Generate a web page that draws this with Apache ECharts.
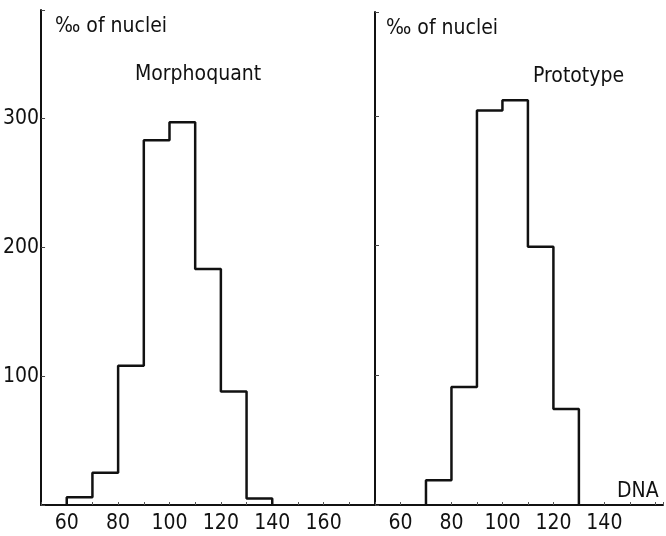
<!DOCTYPE html>
<html>
<head>
<meta charset="utf-8">
<script src="https://cdn.jsdelivr.net/npm/echarts@6/dist/echarts.min.js"></script>
<style>
  html, body { margin: 0; padding: 0; background: #fff; }
  #chart { width: 666px; height: 536px; }
</style>
</head>
<body>
<div id="chart"></div>
<script>
// DNA class left edges and ‰ of nuclei per class
const morphoBins = [60, 70, 80, 90, 100, 110, 120, 130]
const morphoValues = [6, 25, 108, 283, 297, 183, 88, 5]
const protoBins = [70, 80, 90, 100, 110, 120]
const protoValues = [19, 91, 304, 312, 199, 74]
const yTicks = [100, 200, 300]
const leftXLabels = [60, 80, 100, 120, 140, 160]
const rightXLabels = [60, 80, 100, 120, 140]

const binWidth = 10
const font = "'DejaVu Sans Condensed', 'Liberation Sans Narrow', sans-serif"
const ink = '#111'

// outline of a histogram as step points
const stepPoints = (bins, vals) => {
  const pts = [[bins[0], 0]]
  bins.forEach((b, i) => pts.push([b, vals[i]]))
  pts.push([bins[bins.length - 1] + binWidth, 0])
  return pts
}

const chart = echarts.init(document.getElementById('chart'))

const xAxisBase = (max, labels) => ({
  type: 'value',
  min: 50,
  max: max,
  interval: 10,
  axisLine: { lineStyle: { color: ink, width: 2 } },
  axisTick: { inside: true, length: 3, lineStyle: { color: '#555', width: 1 } },
  splitLine: { show: false },
  showMinLabel: false,
  showMaxLabel: false,
  axisLabel: {
    color: ink, fontSize: 21, fontFamily: font, margin: 8,
    formatter: v => labels.includes(v) ? String(v) : ''
  }
})

const yAxisBase = (showLabels) => ({
  type: 'value',
  min: 0,
  max: 384,
  interval: 100,
  axisLine: { show: true, lineStyle: { color: ink, width: 2 } },
  axisTick: { show: true, inside: true, length: 4, lineStyle: { color: '#444', width: 1 } },
  splitLine: { show: false },
  showMaxLabel: false,
  axisLabel: {
    show: showLabels, color: ink, fontSize: 21, fontFamily: font, margin: 2,
    formatter: v => yTicks.includes(v) ? String(v) : ''
  }
})

const textStyle = { color: ink, fontSize: 21, fontFamily: font, fontWeight: 'normal' }

const option = {
  animation: false,
  backgroundColor: '#fff',
  title: [
    { text: '‰ of nuclei', left: 50, top: 11, textStyle },
    { text: 'Morphoquant', left: 130, top: 59, textStyle },
    { text: '‰ of nuclei', left: 381, top: 13, textStyle },
    { text: 'Prototype', left: 528, top: 61, textStyle },
    { text: 'DNA', left: 612, top: 476, textStyle }
  ],
  grid: [
    { left: 40, right: 291, top: 10, bottom: 31 },
    { left: 375, right: 0, top: 12, bottom: 31 }
  ],
  xAxis: [
    Object.assign(xAxisBase(180, leftXLabels), { gridIndex: 0 }),
    Object.assign(xAxisBase(163, rightXLabels), { gridIndex: 1 })
  ],
  yAxis: [
    Object.assign(yAxisBase(true), { gridIndex: 0 }),
    Object.assign(yAxisBase(false), { gridIndex: 1, max: 380 })
  ],
  series: [
    {
      name: 'Morphoquant',
      type: 'line',
      xAxisIndex: 0,
      yAxisIndex: 0,
      step: 'end',
      symbol: 'none',
      data: stepPoints(morphoBins, morphoValues),
      lineStyle: { color: ink, width: 2.5 }
    },
    {
      name: 'Prototype',
      type: 'line',
      xAxisIndex: 1,
      yAxisIndex: 1,
      step: 'end',
      symbol: 'none',
      data: stepPoints(protoBins, protoValues),
      lineStyle: { color: ink, width: 2.5 }
    }
  ]
}

chart.setOption(option)
</script>
</body>
</html>
